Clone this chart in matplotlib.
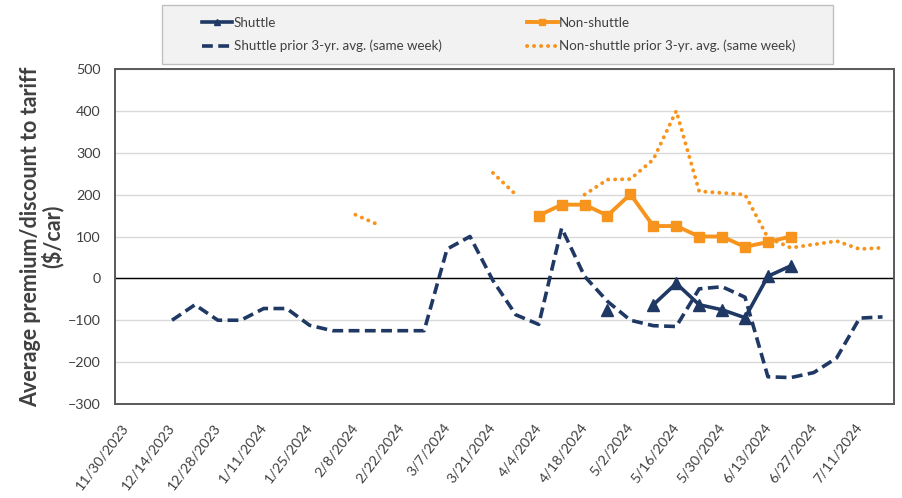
import numpy as np
import pandas as pd
import matplotlib
matplotlib.use("Agg")
import matplotlib.pyplot as plt
from matplotlib.patches import Rectangle

plt.rcParams['font.family'] = ['Lato', 'DejaVu Sans']

# Weekly reporting dates
weeks = pd.date_range('2023-11-30', periods=34, freq='7D')
week_labels = [f"{d.month}/{d.day}/{d.year}" for d in weeks]

nan = np.nan
shuttle = [nan, nan, nan, nan, nan, nan, nan, nan, nan, nan,
           nan, nan, nan, nan, nan, nan, nan, nan, nan, nan,
           nan, -75, nan, -63, -12, -63, -75, -94, 5, 30,
           nan, nan, nan, nan]
non_shuttle = [nan, nan, nan, nan, nan, nan, nan, nan, nan, nan,
               nan, nan, nan, nan, nan, nan, nan, nan, 150, 176,
               176, 150, 201, 125, 125, 100, 100, 75, 87, 100,
               nan, nan, nan, nan]
shuttle_avg = [nan, nan, -100, -63, -100, -100, -72, -72, -112, -125,
               -125, -125, -125, -125, 70, 100, -5, -87, -110, 120,
               5, -55, -100, -113, -115, -25, -20, -45, -235, -237,
               -225, -190, -95, -92]
non_shuttle_avg = [nan, nan, nan, nan, nan, nan, nan, nan, nan, nan,
                   152, 128, nan, nan, nan, nan, 252, 200, nan, nan,
                   200, 236, 237, 284, 400, 208, 204, 200, 97, 73,
                   81, 89, 70, 73]

NAVY = '#1f3864'
ORANGE = '#f7941d'
TXT = '#404040'

fig = plt.figure(figsize=(9.02, 4.98), dpi=100)
ax = fig.add_axes([0.1272, 0.1888, 0.8639, 0.6726])

x = np.arange(len(weeks))

ax.plot(x, shuttle_avg, color=NAVY, lw=2.6, ls=(0, (3.0, 1.5)),
        label='Shuttle prior 3-yr. avg. (same week)', zorder=3)
ax.plot(x, non_shuttle_avg, color=ORANGE, lw=2.8, ls=(0, (0.05, 1.75)),
        dash_capstyle='round', label='Non-shuttle prior 3-yr. avg. (same week)', zorder=3)
ax.plot(x, non_shuttle, color=ORANGE, lw=2.8, marker='s', ms=6.5,
        label='Non-shuttle', zorder=4)
ax.plot(x, shuttle, color=NAVY, lw=2.6, marker='^', ms=8,
        label='Shuttle', zorder=5)

ax.axhline(0, color='black', lw=1.0, zorder=2)

ax.set_xlim(-0.5, len(weeks) - 0.5)
ax.set_ylim(-300, 500)
ax.set_yticks(np.arange(-300, 501, 100))
ax.set_xticks(x[::2])
ax.set_xticklabels(week_labels[::2], rotation=53, ha='right',
                   rotation_mode='anchor', va='center')
ax.tick_params(axis='both', length=0, labelsize=10.3, colors=TXT)
ax.tick_params(axis='y', pad=10)
ax.tick_params(axis='x', pad=15)

ax.grid(axis='y', color='#d9d9d9', lw=1.0, zorder=0)
ax.set_axisbelow(True)
for sp in ax.spines.values():
    sp.set_color('#595959')
    sp.set_linewidth(1.4)

ax.set_ylabel('Average premium/discount to tariff\n($/car)', fontsize=15.5,
              fontweight='bold', color=TXT, va='center', linespacing=1.0)
ax.yaxis.set_label_coords(-0.094, 0.5)

# Legend panel across the top
fig.patches.append(Rectangle((162 / 902, (498 - 64) / 498), 671 / 902, 59 / 498,
                             transform=fig.transFigure, facecolor='#f2f2f2',
                             edgecolor='#bfbfbf', lw=1.0, zorder=0))
handles, labels = ax.get_legend_handles_labels()
order = [3, 0, 2, 1]
leg = fig.legend([handles[i] for i in order], [labels[i] for i in order],
                 ncol=2, loc='center', mode='expand', frameon=False,
                 bbox_to_anchor=(195 / 902, (498 - 64) / 498, 607 / 902, 59 / 498),
                 borderpad=0, handlelength=2.3, handletextpad=0.1,
                 labelspacing=0.85, fontsize=9.6, labelcolor=TXT,
                 markerscale=0.6)

fig.savefig('out.png', dpi=100)
